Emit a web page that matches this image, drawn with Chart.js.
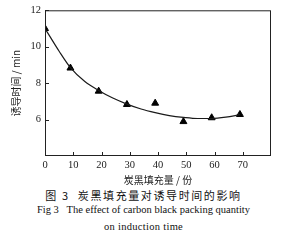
<!DOCTYPE html>
<html><head><meta charset="utf-8">
<script src="https://cdn.jsdelivr.net/npm/chart.js@4/dist/chart.umd.min.js"></script>
<style>
html,body{margin:0;padding:0;background:#fff;}
#wrap{position:relative;width:287px;height:186px;}
.cap{position:absolute;left:0;width:287px;text-align:center;color:#111;white-space:pre;}
</style></head><body>
<div id="wrap"><canvas id="c" width="287" height="186"></canvas></div>
<div class="cap" style="top:187px;font:11px 'Noto Sans CJK SC';letter-spacing:1.6px;">图 3  炭黑填充量对诱导时间的影响</div>
<div class="cap" style="top:204px;font:10.5px 'Liberation Serif';">Fig 3   The effect of carbon black packing quantity</div>
<div class="cap" style="top:221px;font:10.5px 'Liberation Serif';letter-spacing:0.3px;">on induction time</div>
<script>
const fillerAmount = [0, 9, 19, 29, 39, 49, 59, 69];
const inductionTime = [11.0, 8.83, 7.56, 6.83, 6.9, 5.89, 6.1, 6.28];
const fitX = [0, 5, 9, 14, 19, 24, 29, 34, 39, 44, 49, 54, 59, 64, 69];
const fitY = [11.0, 9.75, 8.85, 8.1, 7.6, 7.18, 6.85, 6.58, 6.38, 6.22, 6.12, 6.06, 6.06, 6.13, 6.27];
const xTicks = [0, 10, 20, 30, 40, 50, 60, 70];
const yTicks = [6, 8, 10, 12];

const frame = {
  id: 'frame',
  afterDraw(chart) {
    const {ctx, chartArea: a, scales} = chart;
    ctx.save();
    ctx.strokeStyle = '#222';
    ctx.lineWidth = 1;
    ctx.strokeRect(a.left + 0.5, a.top + 0.5, a.right - a.left - 1, a.bottom - a.top - 1);
    ctx.beginPath();
    xTicks.forEach(v => { if (v > 0) { const px = Math.round(scales.x.getPixelForValue(v)) + 0.5; ctx.moveTo(px, a.bottom); ctx.lineTo(px, a.bottom - 4); } });
    yTicks.forEach(v => { const py = Math.round(scales.y.getPixelForValue(v)) + 0.5; ctx.moveTo(a.left, py); ctx.lineTo(a.left + 4, py); });
    ctx.stroke();
    ctx.restore();
  }
};

new Chart(document.getElementById('c'), {
  type: 'scatter',
  data: {
    datasets: [
      { data: fitX.map((x, i) => ({x, y: fitY[i]})), showLine: true, borderColor: '#1a1a1a', borderWidth: 1.2, pointRadius: 0, tension: 0.4, cubicInterpolationMode: 'monotone' },
      { data: fillerAmount.map((x, i) => ({x, y: inductionTime[i]})), pointStyle: 'triangle', pointRadius: 4, backgroundColor: '#000', borderColor: '#000', borderWidth: 1 }
    ]
  },
  plugins: [frame],
  options: {
    responsive: false, animation: false,
    layout: { padding: { top: 4, right: 16, left: 10, bottom: 0 } },
    plugins: { legend: { display: false }, tooltip: { enabled: false } },
    scales: {
      x: {
        type: 'linear', min: 0, max: 80,
        afterFit(s) { s.height = 30; },
        afterBuildTicks(s) { s.ticks = xTicks.map(v => ({value: v})); },
        grid: { display: false, drawTicks: false },
        border: { display: false },
        ticks: { color: '#222', font: { family: 'Liberation Serif', size: 10.5 }, padding: 3, maxRotation: 0 },
        title: { display: true, text: '炭黑填充量 / 份', color: '#222', font: { family: 'Noto Sans CJK SC', size: 10 }, padding: { top: 0, bottom: 0 } }
      },
      y: {
        min: 4, max: 12,
        afterFit(s) { s.width = 35; },
        afterBuildTicks(s) { s.ticks = yTicks.map(v => ({value: v})); },
        grid: { display: false, drawTicks: false },
        border: { display: false },
        ticks: { color: '#222', font: { family: 'Liberation Serif', size: 10.5 }, padding: 4 },
        title: { display: true, text: '诱导时间 / min', color: '#222', font: { family: 'Noto Sans CJK SC', size: 10 }, padding: { top: 0, bottom: 0 } }
      }
    }
  }
});
</script>
</body></html>
